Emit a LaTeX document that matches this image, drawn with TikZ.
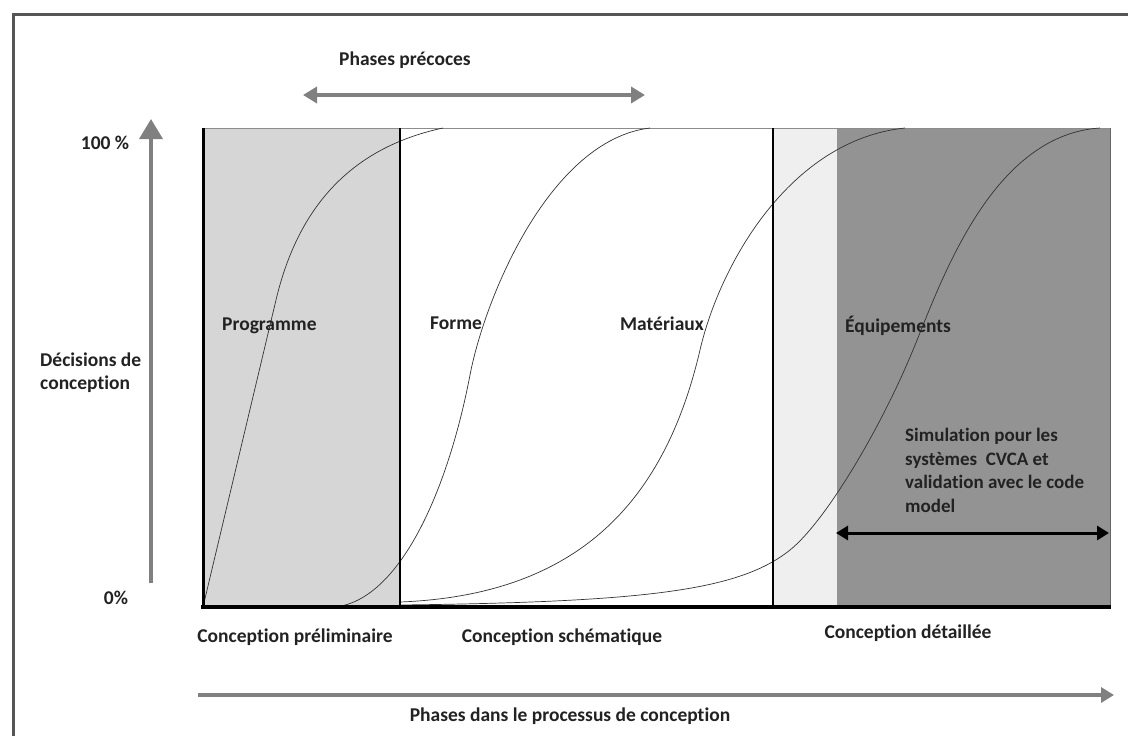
\documentclass[tikz,border=0pt]{standalone}
\usepackage{fontspec}
\setmainfont[Ligatures={NoCommon}]{Carlito}
\usetikzlibrary{arrows.meta}
\definecolor{framegray}{HTML}{555555}
\definecolor{arrgray}{HTML}{808080}
\definecolor{lightfill}{HTML}{D6D6D6}
\definecolor{paler}{HTML}{EFEFEF}
\definecolor{darkfill}{HTML}{939393}
\definecolor{txt}{HTML}{222222}
\tikzset{
  lbl/.style={font=\bfseries\fontsize{19.5}{23}\selectfont, text=txt, inner sep=0pt},
  garrow/.style={draw=arrgray, line width=3.5pt},
  curve/.style={draw=black!80, line width=0.7pt},
}
\begin{document}
\begin{tikzpicture}[x=1pt,y=-1pt]
\useasboundingbox (0,0) rectangle (1128,736);
\fill[white] (0,0) rectangle (1128,736);
% outer frame
\draw[framegray, line width=3pt] (13,736) -- (13,14) -- (1128,14);
% regions
\fill[lightfill] (203,128) rectangle (400,607);
\fill[paler] (773,128) rectangle (837,607);
\fill[darkfill] (837,128) rectangle (1110,607);
\draw[black!45, line width=1pt] (203,128) -- (1110,128);
\draw[black!60, line width=1pt] (1110,128) -- (1110,607);
% curves
\draw[curve] (203,607) -- (276,300) .. controls (295,220) and (340,150) .. (443,128);
\draw[curve] (335,607) .. controls (400,600) and (448,490) .. (470,375)
             .. controls (485,297) and (550,140) .. (650,128);
\draw[curve] (400,602) .. controls (580,595) and (665,500) .. (700,350)
             .. controls (720,264) and (790,140) .. (905,128);
\draw[curve] (400,605) .. controls (650,602) and (740,590) .. (790,550)
             .. controls (825,522) and (880,430) .. (913,350)
             .. controls (940,285) and (990,135) .. (1100,128);
% vertical lines and bottom axis
\draw[black, line width=3pt] (203,128) -- (203,607);
\draw[black, line width=2.5pt] (400,128) -- (400,607);
\draw[black, line width=2.5pt] (773,128) -- (773,607);
\draw[black, line width=4pt] (201,607) -- (1111,607);
% axes arrows
\coordinate (ybot) at (151,583);
\coordinate (ytop) at (151,119);
\draw[garrow, -{Triangle[length=20pt,width=23pt]}] (ybot) -- (ytop);
\coordinate (pl) at (303,95);
\coordinate (pr) at (645,95);
\draw[garrow, {Triangle[length=14pt,width=16pt]}-{Triangle[length=14pt,width=16pt]}] (pl) -- (pr);
\coordinate (xl) at (198,695);
\coordinate (xr) at (1114,695);
\draw[garrow, -{Triangle[length=13pt,width=15pt]}] (xl) -- (xr);
\coordinate (sl) at (836,533);
\coordinate (sr) at (1109,533);
\draw[black, line width=3pt, {Triangle[length=12pt,width=14pt]}-{Triangle[length=12pt,width=14pt]}] (sl) -- (sr);
% labels
\node[lbl] (precoces) at (405,60) {Phases précoces};
\node[lbl] (p100) at (105,143) {100 \%};
\node[lbl] (p0) at (116,598) {0\%};
\node[lbl, anchor=west, align=left] (decis) at (40,373) {Décisions de\\conception};
\node[lbl, anchor=west] (prog) at (222,326) {Programme};
\node[lbl, anchor=west] (forme) at (430,323) {Forme};
\node[lbl, anchor=west] (mat) at (620,324) {Matériaux};
\node[lbl, anchor=west] (equip) at (845,326) {Équipements};
\node[lbl] (cprelim) at (295,637) {Conception préliminaire};
\node[lbl] (cschem) at (562,637) {Conception schématique};
\node[lbl] (cdet) at (908,633) {Conception détaillée};
\node[lbl] (phases) at (570,716) {Phases dans le processus de conception};
\node[lbl, anchor=north west, align=left, font=\bfseries\fontsize{19}{23.5}\selectfont] (simu) at (905,428) {Simulation pour les\\systèmes\ \ CVCA et\\validation avec le code\\model};
\end{tikzpicture}
\end{document}
